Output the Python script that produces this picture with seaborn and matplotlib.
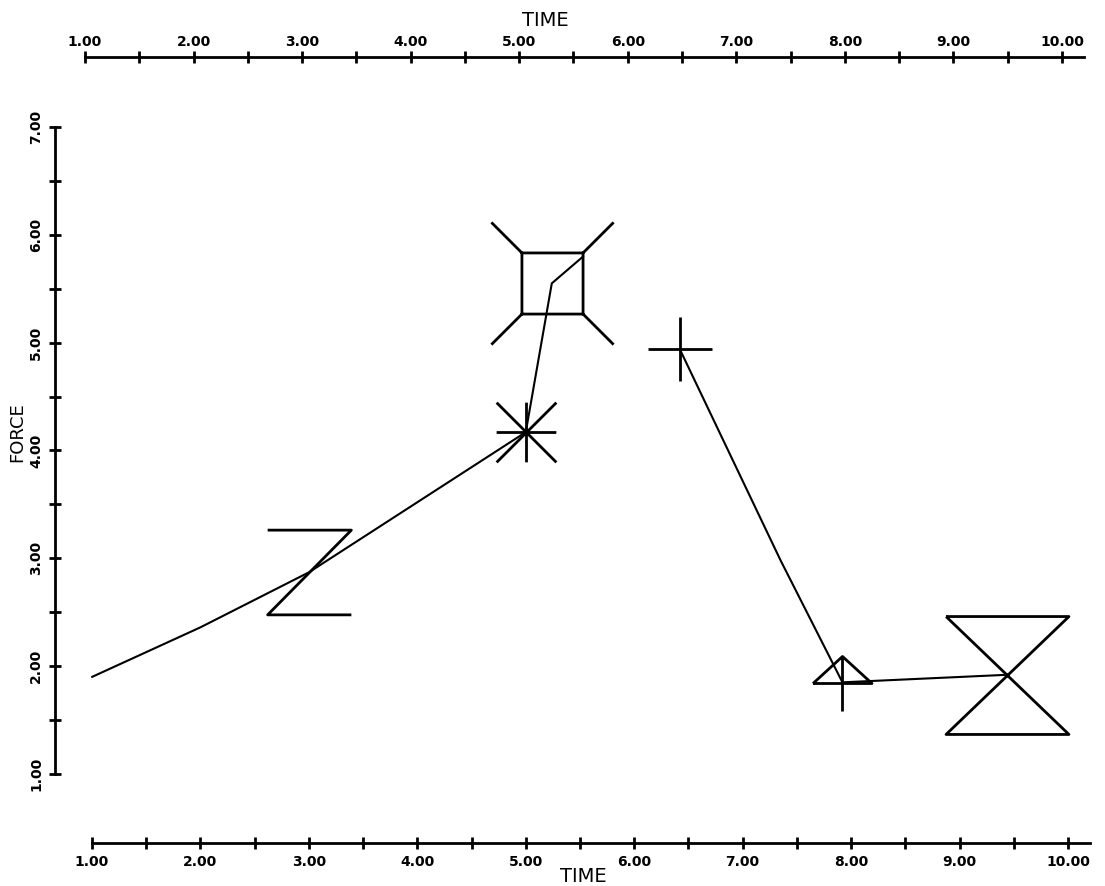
import pandas as pd
import matplotlib
matplotlib.use('Agg')
import matplotlib.pyplot as plt
from matplotlib.path import Path
from matplotlib.ticker import FixedLocator, FormatStrFormatter
import seaborn as sns

# line data (two pieces, the pen lifts between them)
seg1_time = [1.0, 2.0, 3.0, 5.0, 5.24, 5.53]
seg1_force = [1.90, 2.36, 2.87, 4.17, 5.55, 5.80]
seg2_time = [6.42, 7.35, 7.92, 9.44]
seg2_force = [4.94, 2.98, 1.85, 1.92]

# symbols drawn on the curve
sym_time = [3.0, 5.0, 5.24, 6.42, 7.92, 9.44]
sym_force = [2.87, 4.17, 5.55, 4.94, 1.84, 1.92]
sym_names = ['z', 'star', 'boxx', 'plus', 'tri', 'hourglass']

time_ticks = [1, 2, 3, 4, 5, 6, 7, 8, 9, 10]
time_minor = [1.5, 2.5, 3.5, 4.5, 5.5, 6.5, 7.5, 8.5, 9.5]
force_ticks = [1, 2, 3, 4, 5, 6, 7]
force_minor = [1.5, 2.5, 3.5, 4.5, 5.5, 6.5]

df = pd.DataFrame({
    'time': seg1_time + seg2_time,
    'force': seg1_force + seg2_force,
    'seg': [0] * len(seg1_time) + [1] * len(seg2_time),
})


def seg_path(pieces):
    verts, codes = [], []
    for p in pieces:
        verts += p
        codes += [Path.MOVETO] + [Path.LINETO] * (len(p) - 1)
    return Path(verts, codes)


a, b = 30.5, 61
shapes = {
    'z': (seg_path([[(-42, 42.5), (42, 42.5), (-42, -42.5), (42, -42.5)]]), 61),
    'star': (seg_path([[(-30, 0), (30, 0)], [(0, -30), (0, 30)],
                       [(-30, -30), (30, 30)], [(-30, 30), (30, -30)]]), 43),
    'boxx': (seg_path([[(-a, -a), (a, -a), (a, a), (-a, a), (-a, -a)],
                       [(a, a), (b, b)], [(-a, a), (-b, b)],
                       [(-a, -a), (-b, -b)], [(a, -a), (b, -b)]]), 88),
    'plus': (seg_path([[(-32, 0), (32, 0)], [(0, -32), (0, 32)]]), 46),
    'tri': (seg_path([[(-29.5, 0), (29.5, 0), (0, 27), (-29.5, 0)],
                      [(0, 27), (0, -28)]]), 42.5),
    'hourglass': (seg_path([[(-61.5, 59), (61.5, 59), (-61.5, -59),
                             (61.5, -59), (-61.5, 59)]]), 88.5),
}

sns.set_style('white')
plt.rcParams['font.family'] = ['DejaVu Sans']
plt.rcParams['text.color'] = 'black'
plt.rcParams['xtick.color'] = 'black'
plt.rcParams['ytick.color'] = 'black'

fig = plt.figure(figsize=(11.05, 8.86), dpi=100)
ax = fig.add_axes([55 / 1105, 1 - 843 / 886, 1045 / 1105, 786 / 886])
ax.set_xlim(0.659, 10.295)
ax.set_ylim(0.36, 7.649)

sns.lineplot(data=df, x='time', y='force', units='seg', estimator=None,
             sort=False, color='black', lw=1.5, ax=ax, legend=False)

for t, f, n in zip(sym_time, sym_force, sym_names):
    path, size = shapes[n]
    ax.plot([t], [f], marker=path, markersize=size, mfc='none',
            mec='black', mew=2.0, ls='none')

# bottom and left axes
for s in ['top', 'right']:
    ax.spines[s].set_visible(False)
ax.spines['bottom'].set_bounds(1, 10.2)
ax.spines['left'].set_bounds(1, 7)
for s in ['bottom', 'left']:
    ax.spines[s].set_linewidth(2)
    ax.spines[s].set_color('black')

ax.xaxis.set_major_locator(FixedLocator(time_ticks))
ax.xaxis.set_minor_locator(FixedLocator(time_minor))
ax.yaxis.set_major_locator(FixedLocator(force_ticks))
ax.yaxis.set_minor_locator(FixedLocator(force_minor))
ax.xaxis.set_major_formatter(FormatStrFormatter('%.2f'))
ax.yaxis.set_major_formatter(FormatStrFormatter('%.2f'))
ax.tick_params(which='both', direction='inout', length=8, width=2,
               color='black', bottom=True, left=True, top=False, right=False)
ax.tick_params(axis='x', which='major', pad=4.6, labelsize=10,
               labelcolor='black')
ax.tick_params(axis='y', which='major', pad=4.6, labelsize=10,
               labelrotation=90, labelcolor='black')
for lab in ax.get_xticklabels() + ax.get_yticklabels():
    lab.set_fontweight('bold')
for lab in ax.get_yticklabels():
    lab.set_va('center')
ax.set_xlabel('')
ax.set_ylabel('')

# top axis
ax_top = ax.twiny()
ax_top.set_xlim(0.7237, 10.35)
for s in ['bottom', 'left', 'right']:
    ax_top.spines[s].set_visible(False)
ax_top.spines['top'].set_bounds(1, 10.2)
ax_top.spines['top'].set_linewidth(2)
ax_top.spines['top'].set_color('black')
ax_top.xaxis.set_major_locator(FixedLocator(time_ticks))
ax_top.xaxis.set_minor_locator(FixedLocator(time_minor))
ax_top.xaxis.set_major_formatter(FormatStrFormatter('%.2f'))
ax_top.tick_params(which='both', direction='inout', length=8, width=2,
                   color='black', top=True, bottom=False)
ax_top.tick_params(axis='x', which='major', pad=1.8, labelsize=10,
                   labelcolor='black')
for lab in ax_top.get_xticklabels():
    lab.set_fontweight('bold')

fig.text(545 / 1105, 1 - 21 / 886, 'TIME', ha='center', va='center',
         fontsize=14, color='black')
fig.text(583 / 1105, 1 - 877 / 886, 'TIME', ha='center', va='center',
         fontsize=14, color='black')
fig.text(17 / 1105, 1 - 432 / 886, 'FORCE', ha='center', va='center',
         fontsize=13, rotation=90, color='black')

fig.savefig('out.png', dpi=100)
